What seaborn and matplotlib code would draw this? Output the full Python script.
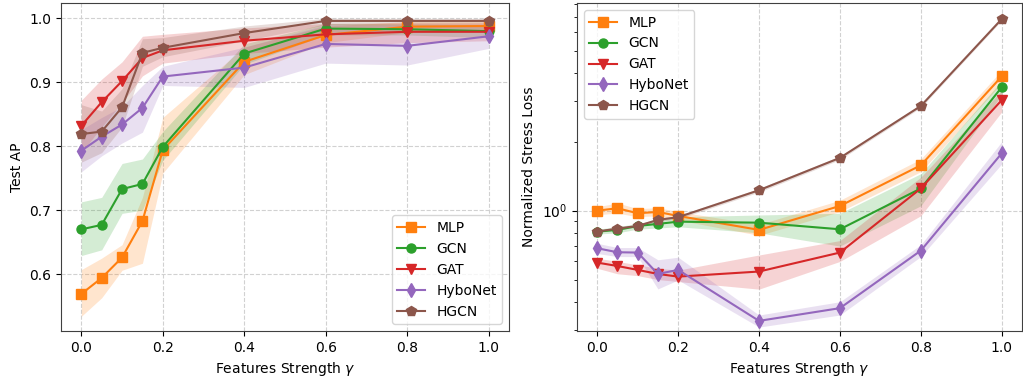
import numpy as np
import pandas as pd
import matplotlib
matplotlib.use("Agg")
import matplotlib.pyplot as plt
import seaborn as sns

gamma = [0.0, 0.05, 0.1, 0.15, 0.2, 0.4, 0.6, 0.8, 1.0]
models = ["MLP", "GCN", "GAT", "HyboNet", "HGCN"]
colors = ["#ff7f0e", "#2ca02c", "#d62728", "#9467bd", "#8c564b"]
markers = ["s", "o", "v", "d", "p"]

# Left panel: Test AP (mean, lower, upper)
ap_mlp = [0.569, 0.594, 0.626, 0.683, 0.794, 0.932, 0.974, 0.987, 0.988]
ap_mlp_lo = [0.534, 0.563, 0.606, 0.617, 0.758, 0.912, 0.962, 0.978, 0.980]
ap_mlp_hi = [0.607, 0.625, 0.646, 0.720, 0.845, 0.955, 0.988, 0.995, 0.996]
ap_gcn = [0.670, 0.677, 0.733, 0.741, 0.799, 0.945, 0.984, 0.983, 0.980]
ap_gcn_lo = [0.629, 0.638, 0.695, 0.700, 0.778, 0.928, 0.974, 0.974, 0.970]
ap_gcn_hi = [0.713, 0.720, 0.773, 0.780, 0.823, 0.960, 0.992, 0.991, 0.990]
ap_gat = [0.832, 0.869, 0.902, 0.938, 0.950, 0.965, 0.975, 0.979, 0.979]
ap_gat_lo = [0.790, 0.830, 0.868, 0.910, 0.930, 0.945, 0.955, 0.962, 0.965]
ap_gat_hi = [0.872, 0.905, 0.932, 0.972, 0.975, 0.985, 0.992, 0.993, 0.993]
ap_hyb = [0.793, 0.815, 0.834, 0.860, 0.909, 0.923, 0.960, 0.957, 0.972]
ap_hyb_lo = [0.760, 0.785, 0.805, 0.822, 0.895, 0.892, 0.930, 0.927, 0.953]
ap_hyb_hi = [0.826, 0.845, 0.862, 0.895, 0.925, 0.955, 0.990, 0.990, 0.990]
ap_hgcn = [0.819, 0.823, 0.861, 0.946, 0.954, 0.977, 0.996, 0.996, 0.996]
ap_hgcn_lo = [0.775, 0.790, 0.830, 0.925, 0.940, 0.965, 0.990, 0.990, 0.990]
ap_hgcn_hi = [0.865, 0.855, 0.890, 0.968, 0.970, 0.988, 1.000, 1.000, 1.000]

# Right panel: Normalized stress loss (mean, lower, upper)
sl_mlp = [1.000, 1.024, 0.974, 0.987, 0.948, 0.824, 1.048, 1.578, 3.86]
sl_mlp_lo = [0.960, 0.975, 0.940, 0.950, 0.910, 0.780, 0.990, 1.480, 3.60]
sl_mlp_hi = [1.040, 1.080, 1.020, 1.030, 0.990, 0.870, 1.110, 1.680, 4.10]
sl_gcn = [0.810, 0.824, 0.857, 0.875, 0.895, 0.886, 0.829, 1.250, 3.46]
sl_gcn_lo = [0.790, 0.800, 0.830, 0.840, 0.850, 0.800, 0.700, 1.050, 3.20]
sl_gcn_hi = [0.830, 0.850, 0.880, 0.910, 0.940, 0.957, 0.974, 1.450, 3.70]
sl_gat = [0.593, 0.573, 0.551, 0.529, 0.515, 0.542, 0.656, 1.250, 3.04]
sl_gat_lo = [0.560, 0.530, 0.520, 0.500, 0.490, 0.454, 0.600, 0.950, 2.70]
sl_gat_hi = [0.620, 0.600, 0.580, 0.560, 0.550, 0.640, 0.740, 1.400, 3.35]
sl_hyb = [0.685, 0.658, 0.656, 0.529, 0.551, 0.330, 0.375, 0.669, 1.78]
sl_hyb_lo = [0.650, 0.630, 0.630, 0.455, 0.498, 0.310, 0.350, 0.630, 1.60]
sl_hyb_hi = [0.720, 0.690, 0.690, 0.610, 0.626, 0.350, 0.400, 0.710, 2.00]
sl_hgcn = [0.810, 0.835, 0.857, 0.911, 0.936, 1.228, 1.700, 2.865, 6.87]
sl_hgcn_lo = [0.800, 0.825, 0.845, 0.895, 0.920, 1.205, 1.670, 2.820, 6.78]
sl_hgcn_hi = [0.820, 0.845, 0.869, 0.927, 0.952, 1.251, 1.730, 2.910, 6.96]

ap = {"MLP": (ap_mlp, ap_mlp_lo, ap_mlp_hi), "GCN": (ap_gcn, ap_gcn_lo, ap_gcn_hi),
      "GAT": (ap_gat, ap_gat_lo, ap_gat_hi), "HyboNet": (ap_hyb, ap_hyb_lo, ap_hyb_hi),
      "HGCN": (ap_hgcn, ap_hgcn_lo, ap_hgcn_hi)}
sl = {"MLP": (sl_mlp, sl_mlp_lo, sl_mlp_hi), "GCN": (sl_gcn, sl_gcn_lo, sl_gcn_hi),
      "GAT": (sl_gat, sl_gat_lo, sl_gat_hi), "HyboNet": (sl_hyb, sl_hyb_lo, sl_hyb_hi),
      "HGCN": (sl_hgcn, sl_hgcn_lo, sl_hgcn_hi)}

plt.rcParams["font.family"] = ["DejaVu Sans"]
plt.rcParams["font.size"] = 10
plt.rcParams["axes.edgecolor"] = "0.25"

fig = plt.figure(figsize=(10.23, 3.77), dpi=100)
ax1 = fig.add_axes([0.0596, 0.122, 0.438, 0.870])
ax2 = fig.add_axes([0.564, 0.122, 0.435, 0.870])

msize = {"s": 6.5, "o": 6.5, "v": 7, "d": 7.5, "p": 7}


def draw(ax, data, legend_loc):
    for name, c, m in zip(models, colors, markers):
        mean, lo, hi = data[name]
        df = pd.DataFrame({"gamma": gamma, "val": mean})
        ax.fill_between(gamma, lo, hi, color=c, alpha=0.2, lw=0)
        sns.lineplot(data=df, x="gamma", y="val", ax=ax, color=c, marker=m,
                     markersize=msize[m],
                     markeredgecolor="auto", markeredgewidth=1.0,
                     linewidth=1.5, label=name)
    ax.grid(True, which="major", ls="--", color="0.82", lw=0.8)
    ax.set_axisbelow(True)
    ax.set_xlim(-0.05, 1.05)
    ax.set_xticks([0.0, 0.2, 0.4, 0.6, 0.8, 1.0])
    ax.set_xlabel("Features Strength $\\gamma$")
    ax.legend(loc=legend_loc, fontsize=10)


draw(ax1, ap, "lower right")
ax1.set_ylim(0.511, 1.024)
ax1.set_yticks([0.6, 0.7, 0.8, 0.9, 1.0])
ax1.set_ylabel("Test AP")

draw(ax2, sl, "upper left")
ax2.set_yscale("log")
ax2.set_ylim(0.298, 8.07)
ax2.set_ylabel("Normalized Stress Loss")

fig.savefig("out.png", dpi=100)
